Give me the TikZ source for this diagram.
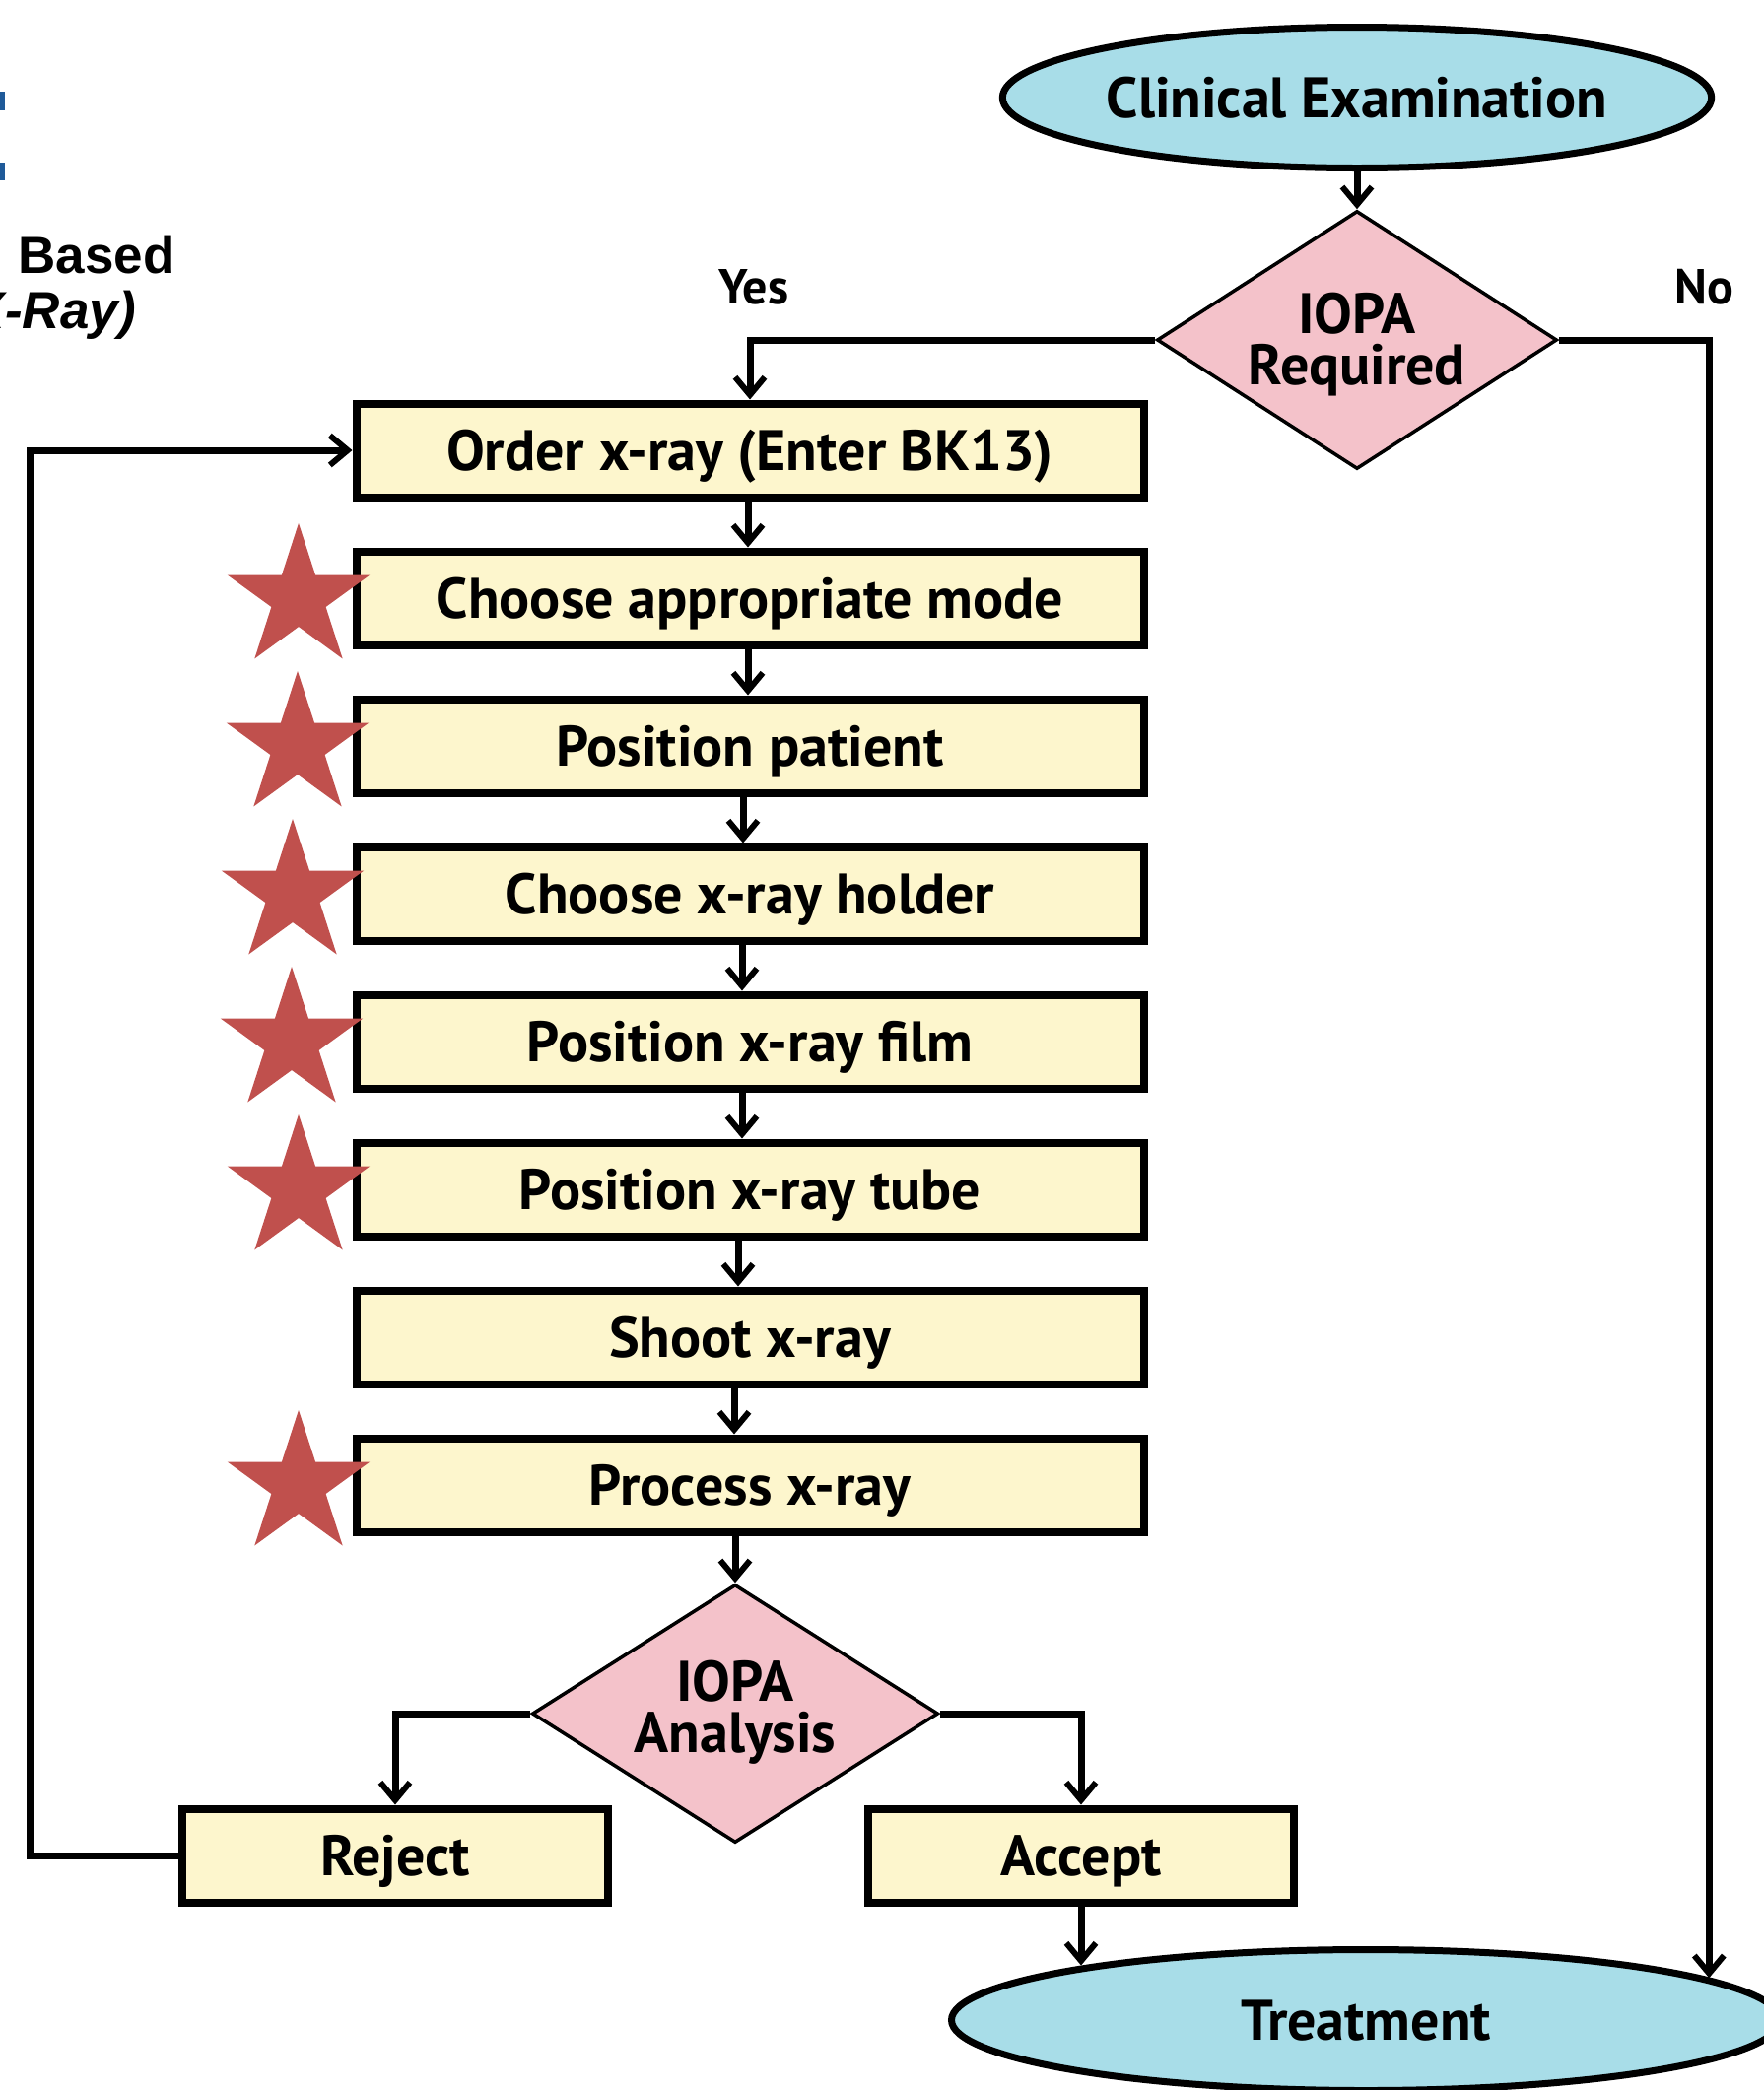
\documentclass[tikz,border=0pt]{standalone}
\usepackage{fontspec}
\setmainfont{PT Sans}
\newfontfamily\lblfont{PT Sans}
\newfontfamily\ttlfont{Liberation Sans}
\usetikzlibrary{shapes.geometric,arrows.meta,calc}
\definecolor{boxfill}{HTML}{FDF6CD}
\definecolor{ovalfill}{HTML}{A8DDE8}
\definecolor{diafill}{HTML}{F4C2CA}
\definecolor{starred}{HTML}{C0504D}
\definecolor{titleblue}{HTML}{1F5A99}
\begin{document}
\begin{tikzpicture}[x=1pt,y=-1pt,
  lbl/.style={font=\lblfont\bfseries\fontsize{58}{52}\selectfont},
  stepbox/.style={lbl,draw=black,line width=8pt,fill=boxfill,
    minimum width=799pt,minimum height=95pt,inner sep=0pt,
    text height=41pt,text depth=0pt},
  smallbox/.style={stepbox,minimum width=432pt},
  oval/.style={lbl,ellipse,draw=black,line width=7pt,fill=ovalfill,inner sep=0pt,
    text height=41pt,text depth=0pt},
  decision/.style={diamond,draw=black,line width=3.5pt,fill=diafill,inner sep=0pt,
    minimum width=#1,minimum height=262pt},
  dlabel/.style={lbl,align=center},
  conn/.style={line width=7pt,-{Straight Barb[length=18pt,width=30pt,line width=6pt]}},
  starmark/.style={star,star points=5,star point ratio=2.618,fill=starred,draw=none,
    minimum size=152pt,inner sep=0pt},
  tag/.style={font=\lblfont\bfseries\fontsize{50}{50}\selectfont},
  ttl/.style={font=\ttlfont\bfseries\fontsize{53}{53}\selectfont,anchor=base east,inner sep=0pt}
]
\useasboundingbox (0,0) rectangle (1789,2121);
\fill[white] (0,0) rectangle (1789,2121);

% cut-off title fragments at the left edge
\begin{scope}
\clip (0,0) rectangle (1789,2121);
\fill[titleblue] (-10,93) rectangle (5,112);
\fill[titleblue] (-10,165) rectangle (5,183);
\node[ttl] (ttl1) at (178,277) {ing Based};
\node[ttl,font=\ttlfont\bfseries\itshape\fontsize{53}{53}\selectfont] (ttl2) at (138,333) {(X-Ray)};
\end{scope}

% terminals and decisions
\node[oval,minimum width=713pt,minimum height=143pt] (ce) at (1377,99) {Clinical Examination};
\node[decision=406pt,label={[dlabel,yshift=-5pt]center:IOPA\\Required}] (req) at (1377,345) {};

% process boxes
\node[stepbox] (b1) at (761,457) {Order x-ray (Enter BK13)};
\node[stepbox] (b2) at (761,607) {Choose appropriate mode};
\node[stepbox] (b3) at (761,757) {Position patient};
\node[stepbox] (b4) at (761,907) {Choose x-ray holder};
\node[stepbox] (b5) at (761,1057) {Position x-ray film};
\node[stepbox] (b6) at (761,1207) {Position x-ray tube};
\node[stepbox] (b7) at (761,1357) {Shoot x-ray};
\node[stepbox] (b8) at (761,1507) {Process x-ray};

\node[decision=412pt,label={[dlabel,yshift=1pt]center:IOPA\\Analysis}] (ana) at (746,1739) {};
\node[smallbox] (rej) at (401,1883) {Reject};
\node[smallbox] (acc) at (1097,1883) {Accept};
\node[oval,minimum width=841pt,minimum height=143pt] (treat) at (1386,2050) {Treatment};

% stars
\node[starmark] (s2) at (303,607) {};
\node[starmark] (s3) at (302,757) {};
\node[starmark] (s4) at (297,907) {};
\node[starmark] (s5) at (296,1057) {};
\node[starmark] (s6) at (303,1207) {};
\node[starmark] (s8) at (303,1507) {};

% labels
\node[tag] (yes) at (765,291) {Yes};
\node[tag] (no) at (1729,291) {No};

% connectors
\draw[conn] (ce.south) -- (req.north);
\draw[conn] (req.west) -| (b1.north);
\draw[conn] (req.east) -| (treat.7.3);
\draw[conn] ([xshift=-2pt]b1.south) -- ([xshift=-2pt]b2.north);
\draw[conn] ([xshift=-2pt]b2.south) -- ([xshift=-2pt]b3.north);
\draw[conn] ([xshift=-7pt]b3.south) -- ([xshift=-7pt]b4.north);
\draw[conn] ([xshift=-8pt]b4.south) -- ([xshift=-8pt]b5.north);
\draw[conn] ([xshift=-8pt]b5.south) -- ([xshift=-8pt]b6.north);
\draw[conn] ([xshift=-12pt]b6.south) -- ([xshift=-12pt]b7.north);
\draw[conn] ([xshift=-16pt]b7.south) -- ([xshift=-16pt]b8.north);
\draw[conn] (b8.south -| ana.north) -- (ana.north);
\draw[conn] (ana.west) -| (rej.north);
\draw[conn] (ana.east) -| (acc.north);
\draw[conn] (acc.south) -- (acc.south |- treat.169.4);
\coordinate (loop) at (30,1883);
\draw[conn] (rej.west) -- (loop) |- (b1.west);
\end{tikzpicture}
\end{document}
